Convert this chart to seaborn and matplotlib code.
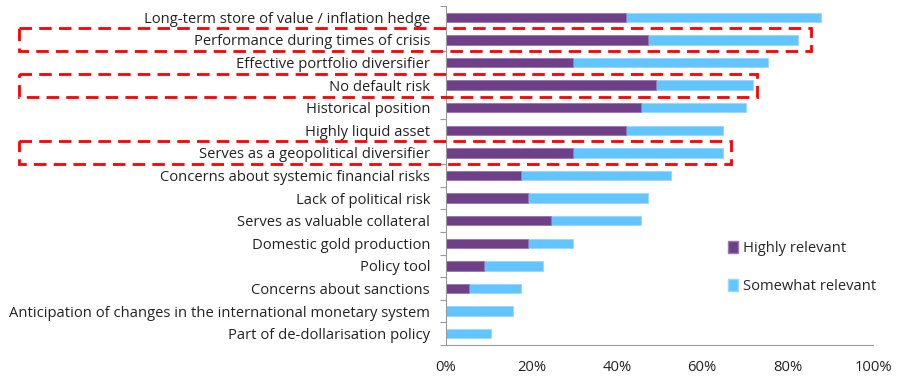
import pandas as pd
import numpy as np
import matplotlib
matplotlib.use("Agg")
import matplotlib.pyplot as plt
import seaborn as sns
from matplotlib.patches import Rectangle, Patch
from matplotlib.ticker import FuncFormatter, FixedLocator

# survey data (% of respondents)
categories = [
    "Long-term store of value / inflation hedge",
    "Performance during times of crisis",
    "Effective portfolio diversifier",
    "No default risk",
    "Historical position",
    "Highly liquid asset",
    "Serves as a geopolitical diversifier",
    "Concerns about systemic financial risks",
    "Lack of political risk",
    "Serves as valuable collateral",
    "Domestic gold production",
    "Policy tool",
    "Concerns about sanctions",
    "Anticipation of changes in the international monetary system",
    "Part of de-dollarisation policy",
]
highly_relevant = [42.1, 47.4, 29.8, 49.1, 45.6, 42.1, 29.8, 17.5, 19.3, 24.6, 19.3, 8.8, 5.3, 0.0, 0.0]
somewhat_relevant = [45.6, 35.1, 45.6, 22.8, 24.6, 22.8, 35.1, 35.1, 28.1, 21.0, 10.5, 14.0, 12.3, 15.8, 10.5]
x_ticks = [0, 20, 40, 60, 80, 100]

# rows highlighted with dashed boxes, and where each box ends on the x scale
highlight_rows = ["Performance during times of crisis", "No default risk",
                  "Serves as a geopolitical diversifier"]
highlight_right = [85.5, 72.8, 66.7]

purple = "#6F3F87"
blue = "#63C5FF"

sns.set_theme(style="white")
plt.rcParams["font.family"] = ["Open Sans", "DejaVu Sans"]

df = pd.DataFrame({
    "category": categories,
    "highly": highly_relevant,
    "total": np.array(highly_relevant) + np.array(somewhat_relevant),
})

fig = plt.figure(figsize=(8.97, 3.82), dpi=100)
ax = fig.add_axes([0.4972, 0.0969, 0.4761, 0.8874])

sns.barplot(data=df, y="category", x="total", color=blue, width=0.42,
            edgecolor="#9ad8ff", linewidth=0.6, saturation=1, ax=ax)
sns.barplot(data=df, y="category", x="highly", color=purple, width=0.42,
            edgecolor="#9a7ab0", linewidth=0.6, saturation=1, ax=ax)

ax.set_xlim(0, 100)
ax.set_ylim(len(categories) - 0.5, -0.5)
ax.set_xlabel("")
ax.set_ylabel("")
ax.set_xticks(x_ticks)
ax.xaxis.set_major_formatter(FuncFormatter(lambda v, p: f"{v:.0f}%"))
ax.tick_params(axis="x", length=0, pad=11, labelsize=10.6, labelcolor="#222222")
ax.tick_params(axis="y", which="major", length=0, pad=11.5, labelsize=10.6, labelcolor="#222222")
ax.yaxis.set_minor_locator(FixedLocator(np.arange(-0.5, len(categories), 1)))
ax.tick_params(axis="y", which="minor", left=True, length=4, width=0.8, color="#999999")

for side in ["top", "right"]:
    ax.spines[side].set_visible(False)
for side in ["left", "bottom"]:
    ax.spines[side].set_color("#999999")
    ax.spines[side].set_linewidth(0.8)

# dashed red highlight boxes
for name, right in zip(highlight_rows, highlight_right):
    i = categories.index(name)
    rect = Rectangle((-100, i - 0.51), right + 100, 1.02, fill=False,
                     edgecolor="#FF0000", linewidth=2.0, linestyle=(0, (4.5, 2.6)),
                     clip_on=False, zorder=5)
    ax.add_patch(rect)

handles = [Patch(facecolor=purple, edgecolor="#9a7ab0", label="Highly relevant"),
           Patch(facecolor=blue, edgecolor="#9ad8ff", label="Somewhat relevant")]
ax.legend(handles=handles, loc="center left", bbox_to_anchor=(0.797, 0.3),
          bbox_transform=fig.transFigure, frameon=False, fontsize=10.6,
          handlelength=0.7, handleheight=0.9, handletextpad=0.3, labelspacing=1.55)

fig.savefig("out.png", dpi=100)
